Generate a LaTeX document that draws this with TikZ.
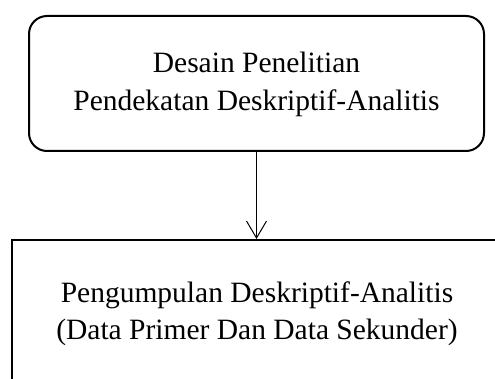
\documentclass[tikz,border=0pt]{standalone}
\usepackage{fontspec}
\setmainfont{Liberation Serif}
\usetikzlibrary{arrows.meta}
\begin{document}
\begin{tikzpicture}[x=1pt,y=-1pt,
  boxline/.style={draw=black, line width=2pt},
  lbl/.style={align=center, inner sep=0pt, font=\fontsize{29.5}{38}\selectfont},
  conn/.style={draw=black, line width=1pt, -{Straight Barb[length=17pt,width=20pt,line width=1pt]}}]
\useasboundingbox (0,0) rectangle (495,379);
\clip (0,0) rectangle (495,379);
\node[boxline, rounded corners=18pt, minimum width=455pt, minimum height=135pt, inner sep=0pt] (desain) at (256.5,83.5) {};
\node[lbl] (t1) at (256.5,84) {Desain Penelitian\\Pendekatan Deskriptif-Analitis};
\node[boxline, anchor=north west, minimum width=500pt, minimum height=200pt, inner sep=0pt] (kumpul) at (11,239) {};
\node[lbl, font=\fontsize{29.5}{36.5}\selectfont] (t2) at (257,314) {Pengumpulan Deskriptif-Analitis\\(Data Primer Dan Data Sekunder)};
\coordinate (tgt) at (desain.south |- kumpul.north);
\draw[conn] (desain.south) -- (tgt);
\end{tikzpicture}
\end{document}
